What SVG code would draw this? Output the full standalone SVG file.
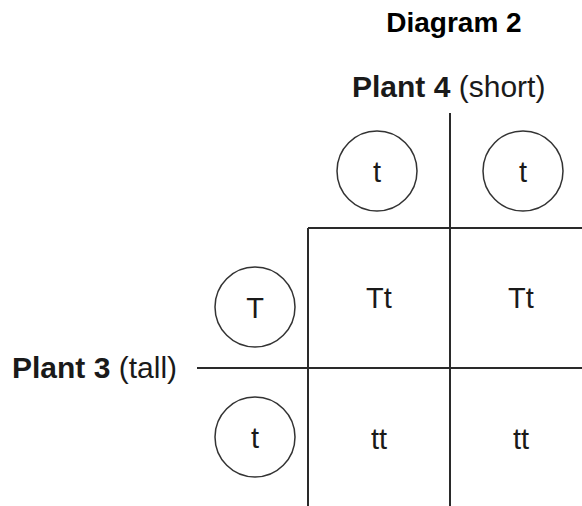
<svg xmlns="http://www.w3.org/2000/svg" width="582" height="506" viewBox="0 0 582 506">
<style>
text{font-family:"Liberation Sans",Arial,sans-serif;fill:#1a1a1a}
.lbl{font-size:30px}
.b{font-weight:bold}
.cell{font-size:29px;text-anchor:middle}
.ln{stroke:#2a2a2a;stroke-width:2;fill:none}
.c{stroke:#333;stroke-width:1.5;fill:#fff}
</style>
<rect width="582" height="506" fill="#fff"/>
<text x="454" y="32" font-size="28" font-weight="bold" text-anchor="middle" style="fill:#000">Diagram 2</text>
<g id="connectors">
<line class="ln" x1="450" y1="113" x2="450" y2="506"/>
<line class="ln" x1="308" y1="228" x2="582" y2="228"/>
<line class="ln" x1="308" y1="228" x2="308" y2="506"/>
<line class="ln" x1="197" y1="368" x2="582" y2="368"/>
</g>
<g id="plant4"><text class="lbl" x="352" y="97"><tspan class="b">Plant 4</tspan> (short)</text></g>
<g id="plant3"><text class="lbl" x="12" y="378"><tspan class="b">Plant 3</tspan> (tall)</text></g>
<g id="g-top1"><circle class="c" cx="377" cy="171" r="40"/><text class="cell" x="377" y="182">t</text></g>
<g id="g-top2"><circle class="c" cx="523" cy="171" r="40"/><text class="cell" x="523" y="182">t</text></g>
<g id="g-left1"><circle class="c" cx="255" cy="307" r="40"/><text class="cell" x="255" y="318">T</text></g>
<g id="g-left2"><circle class="c" cx="255" cy="437" r="40"/><text class="cell" x="255" y="448">t</text></g>
<g id="cell11"><text class="cell" x="379" y="308">Tt</text></g>
<g id="cell12"><text class="cell" x="521" y="308">Tt</text></g>
<g id="cell21"><text class="cell" x="379" y="449">tt</text></g>
<g id="cell22"><text class="cell" x="521" y="449">tt</text></g>
</svg>
